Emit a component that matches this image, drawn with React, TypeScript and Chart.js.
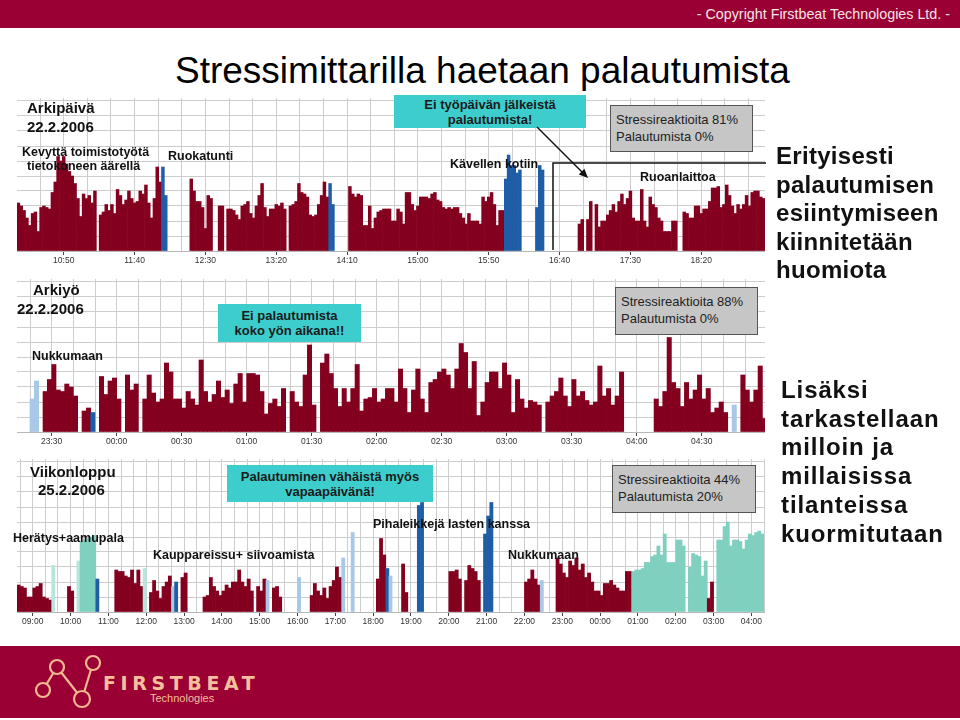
import React, { useEffect, useRef } from "react";
import { Chart, registerables } from "chart.js";

Chart.register(...registerables);

const FONT = '"Liberation Sans", Arial, Helvetica, sans-serif';

// ---------- DATA ----------
// Panel 1: Arkipäivä 22.2.2006, 2-minute bars starting 10:17 (minutes from midnight)
const p1Start = 617;
const p1Slot = 2;
const p1Values = [
  3.2, 3.0, 2.7, 2.2, 1.7, 2.5, 2.6, 1.3, 2.9, 3.0,
  2.9, 2.8, 3.9, 4.6, 6.3, 6.0, 6.3, 5.8, 5.3, 5.0,
  4.5, 3.5, 2.3, 3.8, 3.5, 3.7, 3.2, 4.0, 0, 2.4,
  2.6, 3.1, 2.7, 3.1, 2.5, 4.1, 3.7, 3.1, 3.4, 4.0,
  3.5, 3.2, 3.3, 4.0, 3.8, 4.4, 3.2, 2.2, 3.5, 5.6,
  4.6, 5.6, 3.7, 0, 0, 0, 0, 0, 0, 0,
  0, 4.8, 4.0, 3.3, 3.3, 2.9, 1.5, 3.7, 3.5, 0,
  0, 3.0, 3.0, 0, 2.8, 2.8, 2.7, 2.4, 2.1, 3.0,
  3.1, 3.3, 2.5, 2.2, 3.0, 3.7, 4.5, 2.9, 2.3, 2.8,
  2.8, 3.1, 3.0, 3.2, 2.8, 0, 3.0, 3.1, 3.3, 4.5,
  3.9, 3.8, 3.6, 2.4, 2.3, 2.4, 3.1, 3.7, 4.6, 3.6,
  4.5, 3.1, 0, 0, 0, 0, 0, 4.3, 3.8, 3.6,
  3.8, 3.7, 1.7, 1.7, 3.0, 1.5, 2.2, 2.6, 2.7, 2.8,
  2.8, 2.8, 2.0, 2.0, 2.8, 2.6, 1.8, 3.9, 3.9, 3.1,
  2.7, 3.0, 3.6, 3.6, 3.6, 3.5, 3.8, 3.9, 3.4, 3.3,
  2.9, 2.8, 2.9, 2.8, 2.9, 2.9, 2.5, 2.2, 1.8, 2.5,
  2.0, 2.0, 2.0, 1.8, 3.6, 3.3, 3.6, 3.9, 3.1, 1.7,
  2.7, 2.7, 4.8, 6.4, 5.7, 5.7, 5.2, 5.4, 0, 0,
  0, 0, 0, 2.9, 5.7, 5.4, 0, 0, 0, 0,
  0, 0, 0, 0, 0, 0, 0, 0, 1.8, 2.1,
  0, 2.1, 3.3, 0, 3.1, 1.6, 2.0, 2.0, 2.4, 2.7,
  3.1, 2.6, 3.3, 3.8, 3.1, 3.5, 4.0, 2.2, 2.0, 2.0,
  4.1, 2.0, 1.6, 3.6, 3.1, 2.9, 2.2, 2.0, 1.3, 1.3,
  1.3, 2.0, 2.0, 0, 0, 2.6, 2.5, 2.2, 2.2, 3.0,
  3.0, 2.5, 2.8, 2.8, 3.3, 4.2, 4.2, 4.3, 2.9, 3.1,
  4.4, 3.7, 3.0, 2.5, 3.1, 2.8, 3.1, 3.7, 3.0, 3.9,
  4.0, 4.0, 3.6, 3.5,
];
const p1Blue = [51, 52, 110, 111, 172, 173, 174, 175, 176, 177, 183, 184, 185];

// Panel 2: Arkiyö 22.2.2006, 2-minute bars starting 23:14 (minutes relative to midnight)
const p2Start = -46;
const p2Slot = 2;
const p2Values = [
  0, 0, 0, 2.2, 3.4, 0, 2.7, 3.5, 4.5, 2.8,
  2.7, 3.2, 3.0, 2.4, 0, 1.4, 1.6, 1.3, 0, 3.7,
  2.5, 3.4, 3.6, 2.2, 0, 3.8, 2.8, 3.2, 0, 2.2,
  3.8, 2.6, 2.0, 2.2, 4.6, 4.0, 2.2, 2.2, 1.6, 2.7,
  2.2, 1.8, 4.8, 2.7, 2.0, 2.5, 3.4, 2.3, 2.8, 1.9,
  3.2, 3.9, 2.0, 3.9, 3.9, 3.8, 2.7, 1.2, 1.9, 2.2,
  1.7, 2.9, 0, 2.7, 2.0, 1.7, 3.8, 5.8, 1.8, 0,
  4.6, 5.2, 3.9, 2.9, 1.7, 2.9, 2.0, 2.9, 4.5, 1.4,
  2.2, 2.3, 2.9, 2.0, 2.2, 2.9, 2.9, 2.0, 4.2, 2.9,
  1.3, 2.8, 4.2, 2.2, 1.3, 3.3, 3.5, 4.0, 4.2, 3.8,
  2.9, 4.2, 5.9, 5.3, 2.9, 4.7, 1.1, 2.0, 3.3, 4.0,
  4.0, 2.9, 4.6, 3.8, 1.3, 3.5, 2.2, 1.6, 2.1, 2.0,
  1.8, 0, 2.0, 2.4, 2.7, 3.6, 2.4, 1.7, 3.5, 2.4,
  2.7, 2.1, 1.8, 2.0, 4.4, 2.4, 2.9, 1.8, 2.4, 4.0,
  0, 0, 0, 0, 0, 0, 0, 2.2, 1.7, 2.7,
  6.3, 3.3, 2.9, 1.7, 3.3, 2.2, 2.8, 3.8, 2.2, 2.9,
  1.3, 1.6, 2.0, 1.3, 0, 1.8, 0, 3.8, 2.8, 2.0,
  2.8, 4.4, 0.9,
];
const p2Blue = [17];
const p2Light = [3, 4, 165];

// Panel 3: Viikonloppu 25.2.2006, 5-minute bars starting 08:35
const p3Start = 515;
const p3Slot = 5;
const p3Values = [
  1.8, 1.7, 1.6, 1.0, 1.0, 1.6, 1.7, 1.9, 1.0, 0.9,
  0.8, 3.1, 0, 0, 0, 0, 1.7, 1.4, 0, 3.4,
  4.7, 4.8, 4.9, 5.0, 5.1, 2.2, 0, 0, 0, 0,
  0, 2.8, 2.7, 2.7, 2.4, 2.3, 2.8, 1.9, 2.8, 1.7,
  2.9, 0, 1.3, 2.1, 1.4, 0.9, 1.7, 2.0, 2.4, 1.7,
  2.0, 0, 2.3, 2.6, 0, 0, 0, 0, 0, 1.0,
  1.1, 2.3, 1.7, 1.4, 1.1, 1.4, 1.8, 1.6, 2.0, 2.0,
  2.8, 2.0, 1.7, 2.2, 1.4, 0, 1.7, 1.4, 2.2, 2.1,
  0, 1.6, 1.7, 1.0, 0, 0, 0, 0, 0, 2.3,
  0, 0, 0, 1.1, 1.9, 1.4, 1.1, 1.6, 0.9, 1.7,
  2.1, 3.0, 2.3, 3.6, 0, 0, 5.3, 0, 0, 0,
  0, 0, 0, 0, 2.2, 4.9, 3.8, 2.9, 2.4, 0,
  0, 0, 3.2, 1.3, 0, 0, 0, 7.1, 7.3, 0,
  0, 0, 0, 0, 0, 0, 0, 2.7, 2.7, 2.8,
  2.2, 0, 2.1, 3.1, 2.9, 2.7, 2.1, 0, 5.2, 6.4,
  7.3, 0, 0, 0, 0, 0, 0, 0, 0, 0,
  0, 2.0, 2.2, 2.8, 2.2, 1.8, 2.1, 0, 0, 0,
  0, 3.6, 3.2, 2.6, 2.3, 3.4, 3.1, 3.6, 2.8, 3.2,
  2.3, 2.6, 2.0, 1.4, 1.4, 1.1, 1.9, 1.9, 2.1, 1.8,
  1.6, 1.4, 1.4, 2.7, 2.7, 2.7, 2.8, 2.8, 2.9, 3.3,
  3.3, 3.7, 3.8, 4.4, 3.8, 5.2, 3.3, 3.3, 3.3, 4.8,
  4.8, 4.4, 0, 3.0, 3.9, 3.8, 3.7, 2.4, 3.4, 0.9,
  2.0, 0, 4.8, 4.8, 5.7, 6.0, 4.4, 4.8, 4.8, 4.7,
  4.2, 4.8, 5.2, 5.1, 5.3, 5.4, 5.2,
];
const p3Blue = [25, 50, 117, 127, 128, 148, 149, 150];
const p3Light = [49, 79, 89, 103, 106, 118, 166];
const p3PaleTeal = [11, 19, 40];
const p3TealRanges = [[20, 24], [195, 211], [213, 218], [222, 236]];

// ---------- STYLE ----------
const C_RED = "#84001f";
const C_BLUE = "#1f5ea6";
const C_TEAL = "#80d0c0";
const C_LIGHT = "#a9c7e6";
const C_PALE = "#b8e6dc";
const GRID = "#cdcdcd";

function expandRanges(r: number[][]) {
  const out: number[] = [];
  r.forEach(([a, b]) => {
    for (let i = a; i <= b; i++) out.push(i);
  });
  return out;
}

function fmt(v: number) {
  const m = ((Math.round(v) % 1440) + 1440) % 1440;
  const h = Math.floor(m / 60);
  const mm = m % 60;
  return String(h).padStart(2, "0") + ":" + String(mm).padStart(2, "0");
}

type PanelCfg = {
  values: number[];
  start: number;
  slot: number;
  min: number;
  max: number;
  gridStep: number;
  labelBase: number;
  labelStep: number;
  kinds: { [k: string]: number[] };
};

function colorsFor(cfg: PanelCfg) {
  const colors = cfg.values.map(() => C_RED);
  const map: { [k: string]: string } = { blue: C_BLUE, teal: C_TEAL, light: C_LIGHT, pale: C_PALE };
  Object.keys(cfg.kinds).forEach((k) => {
    cfg.kinds[k].forEach((i) => (colors[i] = map[k]));
  });
  return colors;
}

const W = 748;
const PLOT_H = 153; // 10.2 units * 15 px
const AXIS_H = 20;

function Panel({ cfg, baseline }: { cfg: PanelCfg; baseline: number }) {
  const ref = useRef<HTMLCanvasElement>(null);
  useEffect(() => {
    if (!ref.current) return;
    const isLabel = (v: number) => {
      const q = (v - cfg.labelBase) / cfg.labelStep;
      return Math.abs(q - Math.round(q)) < 1e-6;
    };
    const k0 = Math.ceil((cfg.min - cfg.labelBase) / cfg.gridStep - 1e-9);
    const gridTicks: number[] = [];
    for (let k = k0; cfg.labelBase + k * cfg.gridStep <= cfg.max + 1e-9; k++) {
      gridTicks.push(cfg.labelBase + k * cfg.gridStep);
    }
    const data = cfg.values.map((v, i) => ({
      x: cfg.start + cfg.slot * i + cfg.slot / 2,
      y: v > 0 ? v : null,
    }));
    const chart = new Chart(ref.current, {
      type: "bar",
      data: {
        datasets: [
          {
            data: data as any,
            backgroundColor: colorsFor(cfg),
            borderWidth: 0,
            barPercentage: 1,
            categoryPercentage: 1,
          },
        ],
      },
      options: {
        animation: false,
        responsive: false,
        maintainAspectRatio: false,
        layout: { padding: 0 },
        plugins: { legend: { display: false }, tooltip: { enabled: false } },
        scales: {
          x: {
            type: "linear",
            min: cfg.min,
            max: cfg.max,
            offset: false,
            afterBuildTicks: (s: any) => {
              s.ticks = gridTicks.map((v) => ({ value: v }));
            },
            afterFit: (s: any) => {
              s.height = AXIS_H;
            },
            grid: {
              offset: false,
              color: GRID,
              lineWidth: 1,
              drawTicks: true,
              tickLength: 4,
              tickColor: (ctx: any) =>
                ctx.tick && isLabel(ctx.tick.value) ? "#444" : "rgba(0,0,0,0)",
            },
            border: { color: "#b8b8b8" },
            ticks: {
              autoSkip: false,
              maxRotation: 0,
              minRotation: 0,
              padding: 1,
              color: "#333",
              font: { size: 8.5, family: FONT },
              callback: (v: any) => (isLabel(Number(v)) ? fmt(Number(v)) : ""),
            },
          },
          y: {
            min: 0,
            max: 10.2,
            afterBuildTicks: (s: any) => {
              s.ticks = [0, 1, 2, 3, 4, 5, 6, 7, 8, 9, 10].map((v) => ({ value: v }));
            },
            afterFit: (s: any) => {
              s.width = 0;
            },
            ticks: { display: false },
            grid: { color: GRID, lineWidth: 1, drawTicks: false },
            border: { display: false },
          },
        },
      } as any,
    });
    return () => chart.destroy();
  }, []);
  return (
    <canvas
      ref={ref}
      width={W}
      height={PLOT_H + AXIS_H}
      style={{ position: "absolute", left: 17, top: baseline - PLOT_H, width: W, height: PLOT_H + AXIS_H }}
    />
  );
}

const panel1: PanelCfg = {
  values: p1Values, start: p1Start, slot: p1Slot, min: 617, max: 1145,
  gridStep: 50 / 3, labelBase: 650, labelStep: 50, kinds: { blue: p1Blue },
};
const panel2: PanelCfg = {
  values: p2Values, start: p2Start, slot: p2Slot, min: -46, max: 299.2,
  gridStep: 10, labelBase: -30, labelStep: 30, kinds: { blue: p2Blue, light: p2Light },
};
const panel3: PanelCfg = {
  values: p3Values, start: p3Start, slot: p3Slot, min: 515, max: 1700,
  gridStep: 20, labelBase: 540, labelStep: 60,
  kinds: { teal: expandRanges(p3TealRanges), blue: p3Blue, light: p3Light, pale: p3PaleTeal },
};

// ---------- TEXT HELPERS ----------
function T({ x, y, size = 12.5, bold = true, children, color = "#111", ls = 0 }: any) {
  return (
    <div
      style={{
        position: "absolute",
        left: x,
        top: y - 0.8465 * size,
        fontSize: size,
        lineHeight: `${size}px`,
        fontWeight: bold ? 700 : 400,
        whiteSpace: "nowrap",
        color,
        letterSpacing: ls,
        fontFamily: FONT,
      }}
    >
      {children}
    </div>
  );
}

function CyanBox({ x, y, w, h, lines }: any) {
  return (
    <div
      style={{
        position: "absolute", left: x, top: y, width: w, height: h, background: "#3ecdcd",
        display: "flex", flexDirection: "column", justifyContent: "center", alignItems: "center",
        fontFamily: FONT, fontWeight: 700, fontSize: 13, lineHeight: "15px", color: "#1a1a1a",
      }}
    >
      {lines.map((l: string, i: number) => (
        <div key={i} style={{ whiteSpace: "nowrap" }}>{l}</div>
      ))}
    </div>
  );
}

function GrayBox({ x, y, w, h, lines }: any) {
  return (
    <div
      style={{
        position: "absolute", left: x, top: y, width: w, height: h, background: "#c6c6c6",
        border: "1px solid #555", boxSizing: "border-box", padding: "6px 0 0 5px",
        fontFamily: FONT, fontSize: 13, lineHeight: "16.5px", color: "#222",
      }}
    >
      {lines.map((l: string, i: number) => (
        <div key={i} style={{ whiteSpace: "nowrap" }}>{l}</div>
      ))}
    </div>
  );
}

const BODY = { fontFamily: FONT, fontWeight: 700, fontSize: 24, color: "#111" };

export default function App() {
  const bg = "#9a0033";
  return (
    <div style={{ position: "absolute", left: 0, top: 0, width: 960, height: 720, background: "#fff", overflow: "hidden" }}>
      {/* header */}
      <div style={{ position: "absolute", left: 0, top: 0, width: 960, height: 28, background: bg }} />
      <div
        style={{
          position: "absolute", right: 10, top: 6, fontFamily: FONT, fontSize: 14.3, lineHeight: "16px",
          color: "#f6e4e8", whiteSpace: "nowrap",
        }}
      >
        - Copyright Firstbeat Technologies Ltd. -
      </div>

      {/* title */}
      <T x={175} y={83} size={37} bold={false} color="#000">Stressimittarilla haetaan palautumista</T>

      {/* charts */}
      <Panel cfg={panel1} baseline={251} />
      <Panel cfg={panel2} baseline={432} />
      <Panel cfg={panel3} baseline={612} />

      {/* panel 1 annotations */}
      <T x={27} y={113} size={15}>Arkipäivä</T>
      <T x={27} y={131.5} size={15}>22.2.2006</T>
      <T x={22} y={156.5} size={12.5}>Kevyttä toimistotyötä</T>
      <T x={27} y={171} size={12.5}>tietokoneen äärellä</T>
      <T x={168} y={160.5} size={12.5}>Ruokatunti</T>
      <T x={450} y={169} size={12.5}>Kävellen kotiin</T>
      <T x={640} y={182} size={12.5}>Ruoanlaittoa</T>
      <CyanBox x={394} y={95} w={192} h={33} lines={["Ei työpäivän jälkeistä", "palautumista!"]} />
      <GrayBox x={610} y={105} w={143} h={47} lines={["Stressireaktioita 81%", "Palautumista 0%"]} />

      {/* panel 2 annotations */}
      <T x={33} y={294.5} size={15}>Arkiyö</T>
      <T x={17} y={314} size={15}>22.2.2006</T>
      <T x={32} y={360.5} size={12.5}>Nukkumaan</T>
      <CyanBox x={218} y={304} w={143} h={38} lines={["Ei palautumista", "koko yön aikana!!"]} />
      <GrayBox x={615} y={287} w={143} h={48} lines={["Stressireaktioita 88%", "Palautumista 0%"]} />

      {/* panel 3 annotations */}
      <T x={30} y={476.5} size={15}>Viikonloppu</T>
      <T x={38} y={494.5} size={15}>25.2.2006</T>
      <T x={13} y={543} size={12.5}>Herätys+aamupala</T>
      <T x={153} y={560} size={12.5}>Kauppareissu+ siivoamista</T>
      <T x={373} y={529} size={12.5}>Pihaleikkejä lasten kanssa</T>
      <T x={508} y={560} size={12.5}>Nukkumaan</T>
      <CyanBox x={227} y={465} w={206} h={37} lines={["Palautuminen vähäistä myös", "vapaapäivänä!"]} />
      <GrayBox x={612} y={465} w={144} h={48} lines={["Stressireaktioita 44%", "Palautumista 20%"]} />

      {/* lines & arrow */}
      <svg width={960} height={720} style={{ position: "absolute", left: 0, top: 0, pointerEvents: "none" }}>
        <polyline points="553,250 553,163 766,163" fill="none" stroke="#111" strokeWidth={1.5} />
        <line x1={537} y1={127} x2={583} y2={173} stroke="#111" strokeWidth={1.5} />
        <polygon points="588,178 578.8,174.4 584.4,168.8" fill="#111" />
      </svg>

      {/* right text */}
      <div style={{ position: "absolute", left: 776, top: 142, lineHeight: "28.5px", letterSpacing: 0.3, ...BODY }}>
        <div>Erityisesti</div>
        <div>palautumisen</div>
        <div>esiintymiseen</div>
        <div>kiinnitetään</div>
        <div>huomiota</div>
      </div>
      <div style={{ position: "absolute", left: 781, top: 376, lineHeight: "28.7px", letterSpacing: 0.9, ...BODY }}>
        <div>Lisäksi</div>
        <div>tarkastellaan</div>
        <div>milloin ja</div>
        <div>millaisissa</div>
        <div>tilanteissa</div>
        <div>kuormitutaan</div>
      </div>

      {/* footer */}
      <div style={{ position: "absolute", left: 0, top: 646, width: 960, height: 72, background: bg }} />
      <svg width={260} height={72} style={{ position: "absolute", left: 0, top: 646 }}>
        <g stroke="#f2b892" strokeWidth={2.2} fill={bg}>
          <line x1={43} y1={44} x2={57} y2={21} />
          <line x1={57} y1={21} x2={82} y2={53} />
          <line x1={82} y1={53} x2={93} y2={17} />
          <circle cx={43} cy={44} r={7} />
          <circle cx={57} cy={21} r={7} />
          <circle cx={82} cy={53} r={8} />
          <circle cx={93} cy={17} r={7} />
        </g>
      </svg>
      <div
        style={{
          position: "absolute", left: 103, top: 673, fontFamily: '"DejaVu Sans", sans-serif', fontSize: 19,
          lineHeight: "20px", letterSpacing: 4.6, color: "#f4bf9c", fontWeight: 700, whiteSpace: "nowrap",
        }}
      >
        FIRSTBEAT
      </div>
      <div
        style={{
          position: "absolute", left: 150, top: 692, fontFamily: FONT, fontSize: 11,
          lineHeight: "12px", color: "#f4bf9c", whiteSpace: "nowrap",
        }}
      >
        Technologies
      </div>
    </div>
  );
}
